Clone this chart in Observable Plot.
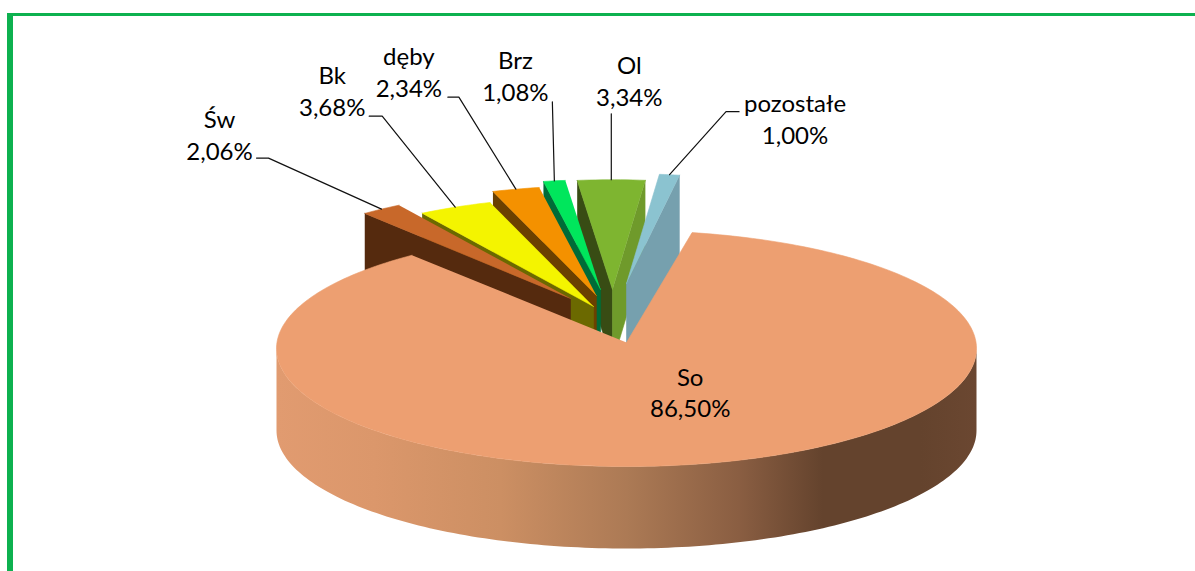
<!DOCTYPE html>
<html lang="pl">
<head>
<meta charset="utf-8">
<script src="https://cdn.jsdelivr.net/npm/d3@7"></script>
<script src="https://cdn.jsdelivr.net/npm/@observablehq/plot@0.6"></script>
<style>
  html, body { margin: 0; padding: 0; background: #fff; overflow: hidden; }
  #chart { position: relative; width: 1195px; height: 571px; }
  #frame { position: absolute; left: 7px; top: 13px; right: 0; bottom: 0;
           border-top: 3px solid #0DB14F; border-left: 6px solid #0DB14F; }
  #chart svg { position: absolute; left: 0; top: 0; }
</style>
</head>
<body>
<div id="chart"><div id="frame"></div></div>
<script>
// ---- data ----
const names  = ["So", "Św", "Bk", "dęby", "Brz", "Ol", "pozostałe"];
const shares = [86.50, 2.06, 3.68, 2.34, 1.08, 3.34, 1.00];
const shareLabels = ["86,50%", "2,06%", "3,68%", "2,34%", "1,08%", "3,34%", "1,00%"];

// ---- styles ----
const topColors   = ["#ED9F71", "#C8682A", "#F4F400", "#F49100", "#00E65C", "#7EB530", "#8BC3D0"];
const leftWalls   = [null, "#552A0E", "#6B6900", "#6B4000", "#006B38", "#384C14", null];
const rightWalls  = [null, null, null, null, null, "#6F9A2B", "#76A0AE"];
const paintOrder  = [5, 6, 4, 3, 2, 1, 0];

// ---- disc layout (disc units: radius = 1) ----
const RX = 350, RY = 118;                 // on-screen ellipse radii
const firstAngle = 9.4 * Math.PI / 180;   // where the So slice starts, clockwise from north
const bigSliceTurn = 1.4 * Math.PI / 180; // perspective: the near slice reads slightly rotated
const tipX = [0, -0.16, -0.094, -0.086, -0.074, -0.04, 0];
const tipY = [0.051, 0.424, 0.356, 0.449, 0.5, 0.5, 0.551];
const explodedRadius = 0.93;
const sliceDepths = [0, 0.62, 0.62, 0.62, 0.62, 0.62, 0.75];
const discDepth = 0.695;

// label offsets from a slice's arc midpoint, in screen pixels
const labelOffset = [[-18, -72], [-162, -75], [-123, -117.5], [-107, -118], [-39, -106], [18, -100], [125.5, -57]];
const leaderStart = [null, [-125, -51], [-86, -91], [-68, -92], [-2, -79], [0, -66], [69.5, -63]];
const leaderElbow = [null, [-113, -51], [-73, -91], [-57, -92], null, null, [56.5, -63]];

// ---- geometry from the values ----
const arcs = d3.pie().value(d => d).sort(null)
  .startAngle(firstAngle).endAngle(firstAngle + 2 * Math.PI)(shares);

const ring = (cx, cy, r, a0, a1) => {
  const n = Math.max(2, Math.ceil(Math.abs(a1 - a0) / 0.02));
  return d3.range(n + 1).map(k => {
    const a = a0 + (a1 - a0) * k / n;
    return {x: cx + r * Math.sin(a), y: cy + r * Math.cos(a)};
  });
};

const slices = arcs.map((arc, i) => {
  const tip = {x: tipX[i], y: tipY[i]};
  const c = i === 0 ? {x: 0, y: 0} : tip;
  const r = i === 0 ? 1 : explodedRadius;
  const turn = i === 0 ? bigSliceTurn : 0;
  const edge = ring(c.x, c.y, r, arc.startAngle + turn, arc.endAngle + turn);
  const mid = (arc.startAngle + arc.endAngle) / 2 + turn;
  return {i, tip, edge, anchor: {x: c.x + r * Math.sin(mid), y: c.y + r * Math.cos(mid)}};
});

const down = (p, d) => ({x: p.x, y: p.y - d});
const wall = (a, b, d) => [a, b, down(b, d), down(a, d)];
const nudge = (p, o) => ({x: p.x + o[0] / RX, y: p.y - o[1] / RY});

// ---- marks ----
const poly = (points, fill, seam = true) =>
  Plot.line(points, {x: "x", y: "y", fill, stroke: seam ? fill : "none", strokeWidth: 0.6, curve: "linear"});

const marks = [];

// rim of the big slice, with its left-to-right shading
marks.push(() => {
  const defs = d3.create("svg:defs");
  const g = defs.append("linearGradient").attr("id", "rim");
  [[0, "#E19B70"], [0.14, "#DB976B"], [0.32, "#CC8F63"], [0.5, "#AC7A55"], [0.66, "#8A5E42"],
   [0.78, "#64432D"], [0.92, "#64432D"], [1, "#6B4731"]]
    .forEach(([o, c]) => g.append("stop").attr("offset", o).attr("stop-color", c));
  return defs.node();
});
const lowerHalf = ring(0, 0, 1, Math.PI / 2, 3 * Math.PI / 2);
marks.push(poly([...lowerHalf, ...lowerHalf.slice().reverse().map(p => down(p, discDepth))], "url(#rim)", false));

for (const i of paintOrder) {
  const s = slices[i];
  const left = s.edge[0], right = s.edge[s.edge.length - 1];
  if (leftWalls[i]) marks.push(poly(wall(left, s.tip, sliceDepths[i]), leftWalls[i]));
  if (rightWalls[i]) marks.push(poly(wall(right, s.tip, sliceDepths[i]), rightWalls[i]));
  marks.push(poly([s.tip, ...s.edge], topColors[i]));
}

const leaders = slices.flatMap(s => {
  if (!leaderStart[s.i]) return [];
  const stops = [leaderStart[s.i], leaderElbow[s.i]].filter(Boolean).map(o => nudge(s.anchor, o));
  return [...stops, s.anchor].map(p => ({...p, slice: names[s.i]}));
});
marks.push(Plot.line(leaders, {x: "x", y: "y", z: "slice", stroke: "#111", strokeWidth: 1.2, curve: "linear"}));

const labels = slices.map(s => ({
  ...nudge(s.anchor, labelOffset[s.i]),
  text: names[s.i] + "\n" + shareLabels[s.i]
}));
marks.push(Plot.text(labels, {
  x: "x", y: "y", text: "text", fill: "#000", fontSize: 24, lineHeight: 1.33,
  fontFamily: "Lato, 'Open Sans', sans-serif", textAnchor: "middle"
}));

const chart = Plot.plot({
  width: 1195, height: 571,
  marginTop: 0, marginRight: 0, marginBottom: 0, marginLeft: 0,
  style: {background: "transparent", overflow: "visible"},
  x: {domain: [-1, 1], range: [626 - RX, 626 + RX], axis: null},
  y: {domain: [-1, 1], range: [348 + RY, 348 - RY], axis: null},
  marks
});
document.getElementById("chart").appendChild(chart);
</script>
</body>
</html>
